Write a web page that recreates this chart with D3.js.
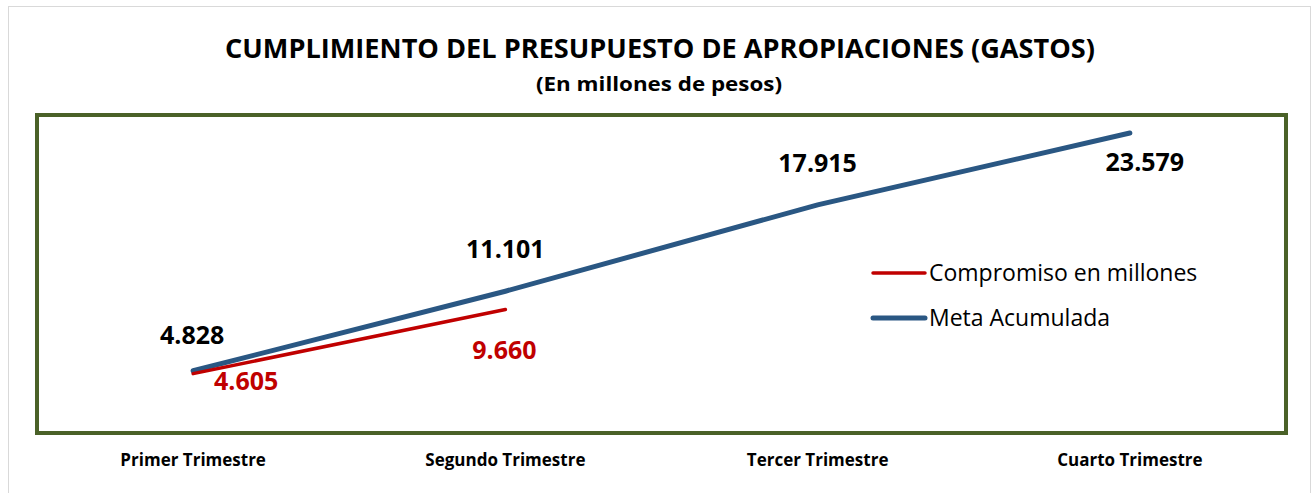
<!DOCTYPE html>
<html>
<head>
<meta charset="utf-8">
<script src="https://cdn.jsdelivr.net/npm/d3@7"></script>
<style>
  body { margin: 0; background: #fff; }
  text { font-family: "Open Sans", "Noto Sans", sans-serif; }
</style>
</head>
<body>
<div id="chart"></div>
<script>
var categories = ["Primer Trimestre", "Segundo Trimestre", "Tercer Trimestre", "Cuarto Trimestre"];
var compromiso = [4605, 9660];
var meta = [4828, 11101, 17915, 23579];
var seriesNames = ["Compromiso en millones", "Meta Acumulada"];

var width = 1312, height = 493;
var plot = {left: 37, top: 115, right: 1286, bottom: 433};

var svg = d3.select("#chart").append("svg")
    .attr("width", width)
    .attr("height", height);

// outer frame
svg.append("rect")
    .attr("x", 8.5).attr("y", 6.5)
    .attr("width", 1302).attr("height", 490)
    .attr("fill", "none")
    .attr("stroke", "#d9d9d9");

svg.append("text")
    .attr("x", 660).attr("y", 58)
    .attr("text-anchor", "middle")
    .attr("font-size", "27px")
    .attr("font-weight", "bold")
    .attr("textLength", 870).attr("lengthAdjust", "spacingAndGlyphs")
    .text("CUMPLIMIENTO DEL PRESUPUESTO DE APROPIACIONES (GASTOS)");

svg.append("text")
    .attr("x", 659).attr("y", 91)
    .attr("text-anchor", "middle")
    .attr("font-size", "20px")
    .attr("font-weight", "bold")
    .attr("textLength", 246).attr("lengthAdjust", "spacingAndGlyphs")
    .text("(En millones de pesos)");

var x = d3.scaleBand()
    .domain(categories)
    .range([plot.left, plot.right]);

var y = d3.scaleLinear()
    .domain([0, 25000])
    .range([plot.bottom - 1, plot.top]);

// plot area border
svg.append("rect")
    .attr("x", plot.left).attr("y", plot.top)
    .attr("width", plot.right - plot.left).attr("height", plot.bottom - plot.top)
    .attr("fill", "none")
    .attr("stroke", "#4a6128")
    .attr("stroke-width", 4);

var xAxis = svg.append("g")
    .attr("transform", "translate(0," + (plot.bottom + 2) + ")")
    .call(d3.axisBottom(x).tickSize(0).tickPadding(19));
xAxis.select(".domain").remove();
xAxis.selectAll("text")
    .attr("font-size", "17px")
    .attr("font-weight", "bold")
    .attr("fill", "#000")
    .style("font-family", "'Open Sans', sans-serif");

var cx = function(d, i) { return x(categories[i]) + x.bandwidth() / 2; };

var line = d3.line()
    .x(cx)
    .y(function(d) { return y(d); });

svg.append("path")
    .datum(meta)
    .attr("d", line)
    .attr("fill", "none")
    .attr("stroke", "#2a5783")
    .attr("stroke-width", 5)
    .attr("stroke-linecap", "round");

svg.append("path")
    .datum(compromiso)
    .attr("d", line)
    .attr("fill", "none")
    .attr("stroke", "#c00000")
    .attr("stroke-width", 3.5)
    .attr("stroke-linecap", "round");

var fmt = function(v) { return d3.format(",")(v).replace(/,/g, "."); };

// meta labels
var metaOffsets = [[-1, -27], [0, -33], [0, -33], [15, 38]];
svg.selectAll(".meta-label")
    .data(meta)
  .enter().append("text")
    .attr("class", "meta-label")
    .attr("x", function(d, i) { return cx(d, i) + metaOffsets[i][0]; })
    .attr("y", function(d, i) { return y(d) + metaOffsets[i][1]; })
    .attr("text-anchor", "middle")
    .attr("font-size", "25px")
    .attr("font-weight", "bold")
    .attr("fill", "#000")
    .text(fmt);

var compOffsets = [[53, 16], [-1, 49]];
svg.selectAll(".comp-label")
    .data(compromiso)
  .enter().append("text")
    .attr("class", "comp-label")
    .attr("x", function(d, i) { return cx(d, i) + compOffsets[i][0]; })
    .attr("y", function(d, i) { return y(d) + compOffsets[i][1]; })
    .attr("text-anchor", "middle")
    .attr("font-size", "25px")
    .attr("font-weight", "bold")
    .attr("fill", "#c00000")
    .text(fmt);

// legend
var legendColors = ["#c00000", "#2a5783"];
var legendWidths = [3.5, 5];
var legend = svg.selectAll(".legend")
    .data(seriesNames)
  .enter().append("g")
    .attr("class", "legend")
    .attr("transform", function(d, i) { return "translate(872," + (273 + i * 45) + ")"; });
legend.append("line")
    .attr("x1", 1).attr("x2", 53)
    .attr("stroke", function(d, i) { return legendColors[i]; })
    .attr("stroke-width", function(d, i) { return legendWidths[i]; })
    .attr("stroke-linecap", "round");
legend.append("text")
    .attr("x", 57).attr("y", 8)
    .attr("font-size", "23px")
    .attr("fill", "#000")
    .text(function(d) { return d; });
</script>
</body>
</html>
